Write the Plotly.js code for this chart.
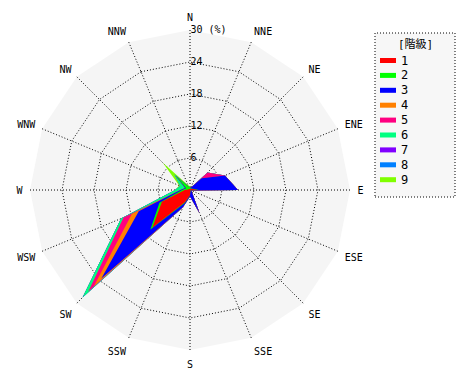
<!DOCTYPE html>
<html>
<head>
<meta charset="utf-8">
<script src="https://cdn.plot.ly/plotly-3.0.1.min.js"></script>
<style>html,body{margin:0;padding:0;background:#fff;}#chart{width:470px;height:380px;}</style>
</head>
<body>
<div id="chart"></div>
<script>
var directions = ['N','NNE','NE','ENE','E','ESE','SE','SSE','S','SSW','SW','WSW','W','WNW','NW','NNW'];
var classNames = ['1','2','3','4','5','6','7','8','9'];
var legendTitle = '[階級]';
var classColors = ['#ff0000','#00ff00','#0000ff','#ff8000','#ff0080','#00ff80','#8000ff','#0080ff','#80ff00'];
//            N    NNE  NE   ENE  E    ESE  SE   SSE  S    SSW  SW    WSW  W    WNW  NW   NNW
var class1 = [0.2, 0.2, 0.3, 0.5, 1.5, 0.1, 0.1, 0.2, 1.0, 2.5, 10.0, 5.7, 1.0, 0.3, 0.3, 0.2];
var class2 = [0.3, 0.1, 0.1, 0.1, 0.2, 0.0, 0.0, 0.0, 0.0, 0.2, 0.5,  0.5, 0.5, 0.5, 3.5, 0.5];
var class3 = [0.0, 0.2, 2.7, 6.5, 7.3, 0.2, 0.4, 4.55,0.2, 0.8, 13.0, 4.2, 0.3, 0.2, 0.0, 0.0];
var class4 = [0,   0,   0,   0,   0,   0,   0,   0,   0,   0,   2.0,  1.4, 0,   0,   0,   0];
var class5 = [0,   0,   1.55,0,   0,   0,   0,   0,   0,   0,   1.5,  1.7, 0,   0,   0,   0];
var class6 = [0,   0,   0,   0,   0,   0,   0,   0,   0,   0,   1.5,  0.5, 1.0, 1.0, 0.3, 0];
var class7 = [0,   0,   0,   0,   0,   0,   0,   0,   0,   0,   0,    0,   0,   0,   0,   0];
var class8 = [0,   0,   0,   0,   0,   0,   0,   0,   0,   0,   0,    0,   0,   0,   0,   0];
var class9 = [0.2, 0,   0,   0,   0,   0,   0,   0,   0,   0,   0,    0,   0,   0.2, 3.1, 0.3];
var radialTicks = [6, 12, 18, 24, 30];
var radialTickText = ['6', '12', '18', '24', '30 (%)'];

var classes = [class1, class2, class3, class4, class5, class6, class7, class8, class9];
var cum = [];
var running = directions.map(function(){return 0;});
classes.forEach(function(c){
  running = running.map(function(v,i){return v + c[i];});
  cum.push(running.slice());
});

var traces = [];
for (var k = classes.length - 1; k >= 0; k--) {
  traces.push({
    type: 'scatterpolar',
    r: cum[k],
    theta: directions,
    name: classNames[k],
    mode: 'lines',
    fill: 'toself',
    fillcolor: classColors[k],
    line: {color: classColors[k], width: 0},
    hoverinfo: 'skip',
    showlegend: false
  });
}

var fontFam = 'DejaVu Sans Mono, Noto Sans CJK JP, monospace';
var W = 470, H = 380;
function px(x){return x / W;}
function py(y){return 1 - y / H;}

// custom legend (box, title, swatches, labels)
var shapes = [{
  type: 'rect', xref: 'paper', yref: 'paper',
  x0: px(375), x1: px(455), y0: py(197), y1: py(33),
  line: {color: '#000', width: 1, dash: '1px,2px'}, fillcolor: '#f7f7f7', layer: 'below'
}];
var annotations = [{
  xref: 'paper', yref: 'paper', x: px(415), y: py(44), xanchor: 'center', yanchor: 'middle',
  text: legendTitle, showarrow: false, font: {family: fontFam, size: 11, color: '#000'}
}];
classNames.forEach(function(name, i){
  var yc = 60.5 + 14.9 * i;
  shapes.push({
    type: 'line', xref: 'paper', yref: 'paper',
    x0: px(380), x1: px(396), y0: py(yc), y1: py(yc),
    line: {color: classColors[i], width: 5}
  });
  annotations.push({
    xref: 'paper', yref: 'paper', x: px(399), y: py(yc), xanchor: 'left', yanchor: 'middle',
    text: name, showarrow: false, font: {family: fontFam, size: 12, color: '#000'}
  });
});

var layout = {
  width: W, height: H,
  margin: {l: 0, r: 0, t: 0, b: 0},
  paper_bgcolor: '#ffffff',
  font: {family: fontFam, size: 10, color: '#000'},
  showlegend: false,
  shapes: shapes,
  annotations: annotations,
  polar: {
    domain: {x: [30/470, 350/470], y: [30/380, 350/380]},
    bgcolor: '#f5f5f5',
    gridshape: 'linear',
    angularaxis: {
      type: 'category',
      categoryarray: directions,
      direction: 'clockwise',
      rotation: 90,
      showline: false,
      showgrid: true, gridcolor: '#000', griddash: '1px,2px', gridwidth: 1,
      ticks: 'outside', ticklen: 5, tickcolor: 'rgba(0,0,0,0)',
      tickfont: {family: fontFam, size: 10, color: '#000'}
    },
    radialaxis: {
      range: [0, 30],
      angle: 90,
      side: 'clockwise',
      tickangle: 90,
      tickvals: radialTicks,
      ticktext: radialTickText,
      showline: false,
      ticks: '',
      showgrid: true, gridcolor: '#000', griddash: '1px,2px', gridwidth: 1,
      tickfont: {family: fontFam, size: 10, color: '#000'},
      layer: 'above traces'
    }
  }
};

Plotly.newPlot('chart', traces, layout, {displayModeBar: false, staticPlot: true});
</script>
</body>
</html>
